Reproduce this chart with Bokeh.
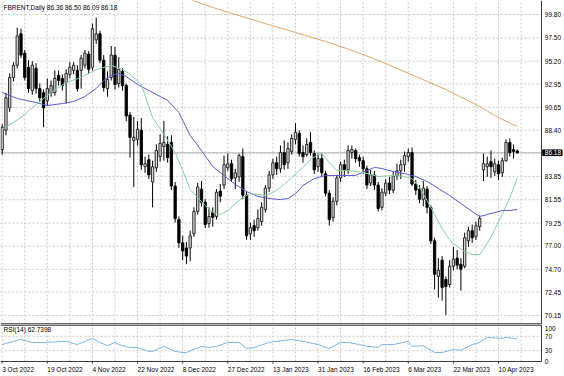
import numpy as np
from bokeh.plotting import figure
from bokeh.layouts import column
from bokeh.models import ColumnDataSource, Range1d
from bokeh.core.properties import value
from bokeh.embed import file_html
from bokeh.resources import INLINE

# ---------------- data ----------------
date_tick_idx = [0, 12, 24, 36, 48, 60, 72, 84, 96, 108, 120, 132]
date_tick_labels = ["3 Oct 2022", "19 Oct 2022", "4 Nov 2022", "22 Nov 2022",
                    "8 Dec 2022", "27 Dec 2022", "13 Jan 2023", "31 Jan 2023",
                    "16 Feb 2023", "6 Mar 2023", "22 Mar 2023", "10 Apr 2023"]

opens = [86.5, 88.4, 90.6, 93.6, 94.8, 97.9, 96.0, 94.6, 92.3, 94.5,
         92.5, 92.1, 91.3, 92.1, 92.1, 93.8, 93.5, 93.1, 93.9, 94.3,
         94.3, 94.3, 94.8, 95.9, 94.6, 97.3, 97.9, 95.3, 92.5, 93.6,
         95.8, 93.0, 94.2, 92.8, 89.9, 87.4, 87.5, 88.4, 84.8, 85.5,
         83.3, 84.7, 85.8, 86.8, 87.0, 87.2, 82.9, 79.6, 77.3, 76.8,
         76.8, 78.2, 80.4, 82.6, 81.3, 79.2, 80.3, 79.9, 82.4, 83.0,
         84.7, 85.1, 83.7, 83.8, 85.8, 82.0, 78.2, 79.0, 78.8, 79.4,
         80.6, 82.7, 84.0, 85.2, 84.6, 86.2, 85.2, 86.3, 87.5, 88.1,
         86.2, 86.0, 87.2, 86.1, 84.8, 85.6, 84.1, 82.2, 79.8, 81.4,
         83.7, 85.0, 84.5, 86.2, 86.4, 85.7, 85.4, 84.6, 83.2, 84.0,
         83.0, 80.8, 82.2, 83.2, 82.5, 83.9, 84.4, 85.0, 85.8, 86.2,
         83.1, 82.6, 81.6, 82.6, 80.8, 77.5, 74.0, 75.6, 73.7, 73.2,
         75.0, 75.8, 75.2, 75.0, 77.5, 78.5, 77.9, 78.9, 84.5, 84.8,
         85.3, 84.3, 85.0, 84.2, 85.4, 87.2, 86.5, 86.36]
highs = [89.0, 92.1, 94.0, 95.1, 98.5, 98.4, 96.3, 95.3, 95.2, 95.0,
         93.0, 92.4, 93.5, 93.3, 94.3, 94.3, 93.9, 94.4, 95.1, 95.1,
         94.8, 95.8, 96.3, 96.2, 98.9, 99.5, 98.2, 95.8, 94.2, 96.7,
         96.6, 95.6, 94.5, 93.0, 90.2, 89.7, 89.3, 89.6, 85.8, 86.0,
         85.4, 87.0, 88.0, 89.3, 87.8, 87.9, 83.3, 79.9, 78.0, 77.4,
         78.5, 80.8, 83.2, 83.4, 81.6, 80.8, 80.8, 82.6, 83.1, 85.9,
         86.1, 85.5, 84.6, 86.1, 86.6, 82.4, 79.3, 79.6, 80.6, 81.3,
         83.0, 84.4, 85.6, 85.8, 86.9, 87.4, 87.2, 88.0, 89.1, 88.4,
         86.9, 87.6, 88.2, 86.4, 86.1, 86.1, 84.4, 82.5, 81.8, 84.0,
         85.3, 85.5, 86.9, 86.9, 86.6, 86.0, 85.8, 84.9, 84.5, 84.4,
         83.3, 82.7, 83.6, 83.8, 84.3, 85.1, 85.5, 86.3, 86.6, 86.7,
         83.5, 83.0, 83.4, 82.9, 81.0, 77.8, 75.8, 76.0, 74.0, 75.6,
         76.9, 76.6, 75.8, 78.3, 78.9, 79.1, 79.4, 80.0, 86.1, 85.8,
         86.4, 85.6, 85.4, 85.7, 87.5, 87.6, 87.0, 86.50]
lows = [86.0, 87.9, 90.2, 93.2, 94.5, 95.5, 93.3, 92.1, 91.9, 92.0,
        91.2, 88.7, 90.8, 91.7, 91.8, 92.8, 92.3, 91.0, 93.5, 93.9,
        92.2, 92.5, 94.5, 94.0, 94.3, 96.9, 95.0, 92.2, 91.7, 93.3,
        92.4, 92.6, 92.3, 89.3, 85.7, 82.8, 86.9, 84.5, 84.2, 83.6,
        80.8, 84.3, 85.3, 85.4, 85.2, 82.5, 79.3, 76.8, 75.6, 75.2,
        75.5, 77.9, 80.1, 80.9, 78.8, 78.8, 78.9, 79.6, 81.3, 82.6,
        84.4, 83.3, 82.6, 83.3, 81.6, 77.6, 77.6, 77.9, 78.5, 79.0,
        80.3, 82.3, 83.6, 84.0, 84.2, 84.5, 84.6, 86.0, 87.0, 85.8,
        85.2, 85.8, 85.9, 84.1, 84.3, 83.9, 81.9, 79.0, 79.4, 81.0,
        83.3, 83.8, 84.1, 85.6, 85.2, 84.8, 84.1, 82.6, 82.9, 82.5,
        80.4, 80.5, 81.9, 82.1, 82.2, 83.5, 83.6, 84.3, 85.3, 82.9,
        82.0, 81.2, 80.9, 80.2, 77.2, 72.7, 71.9, 71.6, 70.2, 72.9,
        74.6, 74.7, 72.6, 74.8, 76.9, 77.3, 77.6, 78.5, 83.4, 83.8,
        83.7, 83.9, 83.5, 83.8, 85.3, 85.8, 85.6, 86.09]
closes = [88.7, 91.6, 93.6, 94.8, 97.7, 95.8, 93.6, 92.5, 94.8, 92.5,
          91.6, 90.6, 92.5, 92.8, 93.5, 93.3, 92.8, 94.0, 94.6, 94.8,
          92.5, 95.5, 96.0, 94.4, 98.4, 97.9, 95.3, 92.6, 93.4, 95.8,
          92.9, 94.4, 92.8, 89.8, 87.7, 87.7, 88.5, 85.0, 85.1, 84.0,
          84.8, 86.4, 87.1, 87.2, 85.7, 82.9, 79.7, 77.3, 76.5, 76.0,
          78.0, 80.4, 82.8, 81.3, 79.1, 79.9, 79.8, 82.3, 81.9, 85.0,
          85.1, 83.6, 84.2, 85.9, 82.0, 78.0, 78.8, 78.5, 79.7, 80.8,
          82.7, 84.0, 85.2, 84.6, 86.2, 85.0, 86.6, 87.6, 88.2, 86.1,
          85.8, 87.0, 86.2, 84.5, 85.6, 84.2, 82.2, 79.6, 81.4, 83.7,
          85.0, 84.5, 86.4, 86.5, 85.6, 85.4, 84.6, 83.0, 84.0, 83.0,
          80.7, 82.3, 83.2, 82.5, 83.9, 84.4, 85.0, 85.9, 86.2, 83.1,
          82.5, 81.6, 82.7, 80.8, 77.5, 74.2, 74.6, 72.9, 73.0, 75.0,
          75.7, 75.1, 74.7, 77.8, 78.5, 77.8, 79.0, 79.7, 85.1, 85.1,
          84.8, 85.1, 84.1, 85.4, 87.2, 86.2, 86.3, 86.18]

# moving averages (bar index, price)
ma_fast_idx = [0, 5, 9, 13, 17, 21, 25, 29, 32, 34, 37, 40, 43, 46, 48, 50, 52, 54,
               56, 58, 60, 62, 64, 66, 68, 70, 72, 74, 77, 80, 82, 84, 85, 87, 89,
               92, 96, 100, 104, 107, 109, 111, 113, 115, 117, 119, 121, 123, 125,
               127, 129, 131, 133, 135, 137]
ma_fast_val = [88.47, 89.65, 90.93, 92.12, 93.10, 93.59, 94.38, 94.78, 94.38, 93.94,
               92.90, 89.65, 87.98, 86.20, 84.43, 82.56, 81.77, 80.98, 80.29, 80.10,
               80.49, 81.18, 81.77, 82.16, 82.07, 81.97, 82.26, 82.76, 83.74, 84.73,
               85.51, 86.01, 86.11, 85.22, 84.43, 84.43, 84.23, 83.84, 83.94, 83.84,
               83.64, 82.76, 81.47, 80.10, 78.72, 77.63, 76.94, 76.45, 76.15, 76.15,
               77.24, 78.62, 80.10, 81.77, 83.64]
ma_mid_idx = [0, 4, 9, 12, 16, 19, 22, 25, 27, 29, 31, 33, 36, 40, 44, 47, 50, 53,
              56, 59, 62, 65, 68, 71, 74, 76, 78, 80, 83, 86, 90, 94, 97, 99, 101,
              104, 107, 110, 113, 116, 119, 122, 125, 127, 129, 131, 133, 135, 137]
ma_mid_val = [92.12, 91.52, 91.13, 90.83, 91.03, 91.23, 91.72, 92.51, 93.30, 93.79,
              93.99, 93.69, 92.90, 92.12, 91.33, 90.14, 87.88, 86.40, 84.82, 83.94,
              83.05, 82.36, 81.87, 81.67, 81.57, 81.67, 82.16, 82.95, 83.64, 83.94,
              83.94, 83.94, 84.43, 84.73, 84.63, 84.33, 84.13, 83.84, 83.35, 82.66,
              81.97, 81.18, 80.39, 79.90, 80.10, 80.29, 80.49, 80.49, 80.59]
ma_slow_idx = [45, 50, 56, 62, 70, 78, 86, 94, 102, 110, 118, 126, 132, 137]
ma_slow_val = [101.6, 101.28, 100.49, 99.80, 98.91, 98.03, 97.14, 96.15, 94.97,
               93.69, 92.41, 90.93, 89.65, 88.77]

rsi_idx = [0, 3, 5, 8, 12, 17, 20, 22, 24, 26, 28, 30, 31, 34, 36, 39, 40, 43, 46,
           48, 49, 53, 55, 57, 60, 63, 65, 67, 71, 73, 77, 80, 84, 87, 90, 92, 95,
           97, 100, 101, 104, 108, 109, 112, 115, 117, 120, 122, 125, 127, 129,
           133, 134, 137]
rsi_val = [47, 56, 61, 53, 53, 56, 47, 56, 64, 53, 44, 53, 47, 39, 39, 28, 28, 42,
           28, 25, 25, 42, 39, 42, 53, 53, 36, 39, 53, 56, 61, 56, 47, 36, 53, 53,
           47, 42, 39, 47, 47, 56, 42, 44, 25, 25, 33, 31, 47, 53, 67, 64, 67, 62.74]

price_ticks = [99.80, 97.50, 95.20, 92.95, 90.65, 88.40, 83.85, 81.55, 79.25,
               77.00, 74.70, 72.45, 70.15]
price_grid = price_ticks + [86.12]
rsi_ticks = [0, 30, 70, 100]
rsi_levels = [30, 70]
last_price = 86.18
title_text = "FBRENT,Daily  86.36 86.50 86.09 86.18"
rsi_title = "RSI(14) 62.7398"

# ---------------- styling / geometry ----------------
FONT = value("Liberation Sans")
FS = "6.5px"
GRID_C = "#c9c9c9"
FRAME_C = "#3a3a3a"
X_LO, X_EDGE, X_HI = -0.45, 143.43, 149.55     # left edge, chart border, window edge
X_LBL = 144.3                                   # price-scale label column
Y_LO, Y_HI = 69.26, 101.18
R_LO, R_HI = -38.9, 102.78

idx = np.arange(len(opens))
o = np.array(opens); h = np.array(highs); l = np.array(lows); c = np.array(closes)
up = c >= o
src_up = ColumnDataSource(dict(x=idx[up], top=np.maximum(o, c)[up], bot=np.minimum(o, c)[up]))
src_dn = ColumnDataSource(dict(x=idx[~up], top=np.maximum(o, c)[~up], bot=np.minimum(o, c)[~up]))
src_w = ColumnDataSource(dict(x=idx, lo=l, hi=h))
vgrid = list(range(0, 144, 6))

xr = Range1d(X_LO, X_HI)

# ---------------- main price panel ----------------
p1 = figure(frame_width=564, frame_height=324, x_range=xr, y_range=Range1d(Y_LO, Y_HI),
            output_backend="svg", toolbar_location=None, x_axis_location=None,
            y_axis_location=None, min_border=0)
p1.grid.visible = False
p1.outline_line_color = None
p1.background_fill_color = "white"
p1.border_fill_color = "white"

p1.segment(x0=X_LO, x1=X_EDGE, y0=price_grid, y1=price_grid, line_color=GRID_C,
           line_dash="2 2", line_width=1)
p1.segment(x0=vgrid, x1=vgrid, y0=Y_LO, y1=Y_HI, line_color=GRID_C, line_dash="2 2",
           line_width=1)
p1.segment(x0=X_LO, x1=X_EDGE, y0=last_price, y1=last_price, line_color="#b4b4b4",
           line_width=1)

p1.segment(x0="x", y0="lo", x1="x", y1="hi", source=src_w, line_color="black", line_width=1)
p1.vbar(x="x", top="top", bottom="bot", width=0.62, source=src_up,
        fill_color="#d6d6d6", line_color="#1a1a1a", line_width=0.9)
p1.vbar(x="x", top="top", bottom="bot", width=0.62, source=src_dn,
        fill_color="black", line_color="black", line_width=0.9)

p1.line(ma_slow_idx, ma_slow_val, line_color="#d9a86c", line_width=1)
p1.line(ma_mid_idx, ma_mid_val, line_color="#5a5ad2", line_width=1)
p1.line(ma_fast_idx, ma_fast_val, line_color="#86cfa6", line_width=1)

# chart border (right edge and bottom separator)
p1.segment(x0=X_EDGE, x1=X_EDGE, y0=Y_LO, y1=Y_HI, line_color=FRAME_C, line_width=1)
p1.segment(x0=X_LO, x1=X_EDGE, y0=69.31, y1=69.31, line_color=FRAME_C, line_width=1.5)

# price scale
p1.text(x=X_LBL, y=price_ticks, text=["%.2f" % v for v in price_ticks], text_font=FONT,
        text_font_size=FS, text_color="black", text_align="left", text_baseline="middle")
p1.quad(left=143.75, right=148.9, bottom=last_price - 0.28, top=last_price + 0.28,
        fill_color="black", line_color="black")
p1.text(x=X_LBL, y=[last_price], text=["%.2f" % last_price], text_font=FONT,
        text_font_size=FS, text_color="white", text_align="left", text_baseline="middle")

p1.text(x=0.35, y=100.49, text=[title_text], text_font=FONT, text_font_size=FS,
        text_color="black", text_align="left", text_baseline="middle")

# ---------------- RSI panel ----------------
p2 = figure(frame_width=564, frame_height=51, x_range=xr, y_range=Range1d(R_LO, R_HI),
            output_backend="svg", toolbar_location=None, x_axis_location=None,
            y_axis_location=None, min_border=0)
p2.grid.visible = False
p2.outline_line_color = None
p2.background_fill_color = "white"
p2.border_fill_color = "white"

p2.segment(x0=X_LO, x1=X_EDGE, y0=rsi_levels, y1=rsi_levels, line_color=GRID_C,
           line_dash="2 2", line_width=1)
p2.segment(x0=vgrid, x1=vgrid, y0=0, y1=100, line_color=GRID_C, line_dash="2 2",
           line_width=1)
p2.line(rsi_idx, rsi_val, line_color="#79b7e8", line_width=1)

p2.segment(x0=X_LO, x1=X_EDGE, y0=101.4, y1=101.4, line_color=FRAME_C, line_width=1.5)
p2.segment(x0=X_LO, x1=X_EDGE, y0=0, y1=0, line_color=FRAME_C, line_width=1)
p2.segment(x0=X_EDGE, x1=X_EDGE, y0=0, y1=101.4, line_color=FRAME_C, line_width=1)

# RSI scale: labels sit at their level, the top one just inside the panel
rsi_label_y = [0, 30, 70, 90.3]
p2.text(x=X_LBL, y=rsi_label_y, text=[str(v) for v in rsi_ticks], text_font=FONT,
        text_font_size=FS, text_color="black", text_align="left", text_baseline="middle")
p2.text(x=0.35, y=88.9, text=[rsi_title], text_font=FONT, text_font_size=FS,
        text_color="black", text_align="left", text_baseline="middle")

# time scale
p2.segment(x0=date_tick_idx, x1=date_tick_idx, y0=0, y1=-5.6, line_color=FRAME_C,
           line_width=1)
p2.text(x=date_tick_idx, y=-22.2, text=date_tick_labels, text_font=FONT,
        text_font_size=FS, text_color="black", text_align="left", text_baseline="middle")

layout = column(p1, p2, spacing=0)
open("out.html", "w").write(file_html(layout, INLINE))
